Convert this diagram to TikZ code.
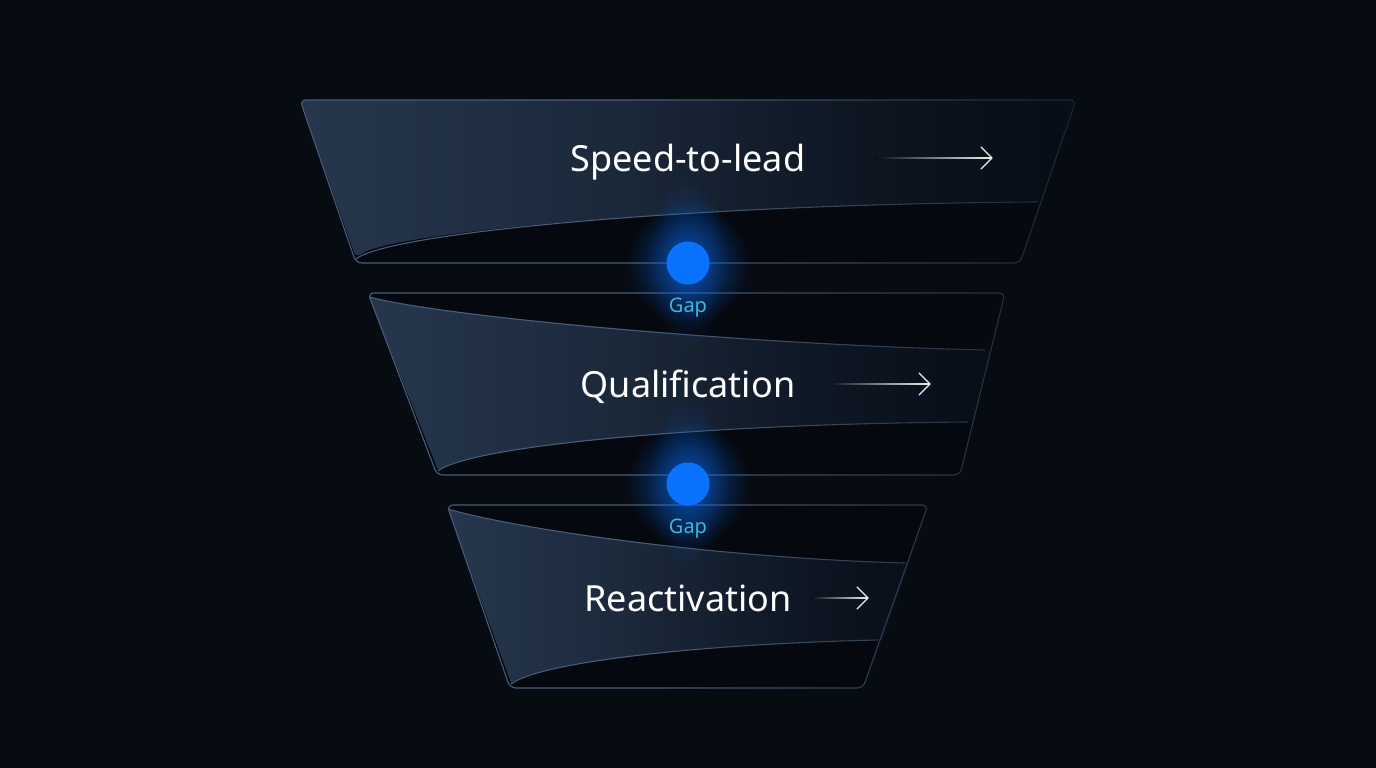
\documentclass[tikz,border=0pt]{standalone}
\usepackage{fontspec}
\setmainfont{Noto Sans}
\usetikzlibrary{fadings}
\definecolor{bg}{HTML}{070B12}
\definecolor{edge}{HTML}{4A5D78}
\definecolor{faceL}{HTML}{26374D}
\definecolor{faceM}{HTML}{14233A}
\definecolor{faceR}{HTML}{0B1320}
\definecolor{inner}{HTML}{05080E}
\definecolor{dotc}{HTML}{0A72FF}
\definecolor{gapc}{HTML}{3BB8DC}
\tikzfading[name=dimright, left color=transparent!100, right color=transparent!30]
\tikzfading[name=glowfade, inner color=transparent!45, outer color=transparent!100]
\tikzset{
  edgeline/.style={draw=edge, line width=1.1pt},
  face/.style={left color=faceL, middle color=faceM, right color=faceR},
  label/.style={text=white, font=\fontsize{36}{40}\selectfont, inner sep=0pt, anchor=base},
  gaplabel/.style={text=gapc, font=\fontsize{20}{24}\selectfont, inner sep=0pt, anchor=base},
  dotnode/.style={circle, fill=dotc, minimum size=43pt, inner sep=0pt},
  arrowhead/.style={draw=white!88!gray, line width=1.2pt, line cap=round, line join=round}
}
\begin{document}
\begin{tikzpicture}[x=1pt,y=-1pt]
\fill[bg] (0,0) rectangle (1376,768);
\useasboundingbox (0,0) rectangle (1376,768);

% ---------- Band 1 ----------
\fill[inner, rounded corners=6pt] (300,100) -- (1076,100) -- (1020,263) -- (356,263) -- cycle;
\shade[face, rounded corners=6pt] (300,100) -- (1076,100) -- (1041,202) .. controls (700,204) and (390,232) .. (356,258) -- cycle;
\draw[edgeline, rounded corners=6pt] (356,263) -- (300,100) -- (1076,100) -- (1020,263) -- cycle;
\draw[edgeline] (356,259) .. controls (390,232) and (700,204) .. (1038,202);

% ---------- Band 2 ----------
\fill[inner, rounded corners=6pt] (368,293) -- (1005,293) -- (960,475) -- (437,475) -- cycle;
\shade[face] (369,297) .. controls (450,318) and (760,345) .. (991,350) -- (973,422) .. controls (700,424) and (470,446) .. (438,470) -- cycle;
\draw[edgeline, rounded corners=6pt] (437,475) -- (368,293) -- (1005,293) -- (960,475) -- cycle;
\draw[edgeline] (369,297) .. controls (450,318) and (760,345) .. (985,350);
\draw[edgeline] (438,471) .. controls (470,446) and (700,424) .. (968,422);

% ---------- Band 3 ----------
\fill[inner, rounded corners=6pt] (447,505) -- (928,505) -- (863,688) -- (510,688) -- cycle;
\shade[face] (448,509) .. controls (520,530) and (720,558) .. (910,563) -- (883,640) .. controls (700,644) and (540,662) .. (511,683) -- cycle;
\draw[edgeline, rounded corners=6pt] (510,688) -- (447,505) -- (928,505) -- (863,688) -- cycle;
\draw[edgeline] (448,509) .. controls (520,530) and (720,558) .. (905,563);
\draw[edgeline] (511,684) .. controls (540,662) and (700,644) .. (878,640);

% ---------- dim the right-hand side ----------
\fill[bg, path fading=dimright] (640,90) rectangle (1090,700);

% ---------- Glows and dots ----------
\foreach \cy in {263,484}{
  \fill[dotc, path fading=glowfade] (688,\cy) circle (62);
  \fill[dotc, path fading=glowfade, opacity=0.6] (688,\cy) ellipse (40 and 85);
}
\node[dotnode] (d1) at (688,263) {};
\node[dotnode] (d2) at (688,484) {};
\node[gaplabel] (g1) at (688,312) {Gap};
\node[gaplabel] (g2) at (688,533) {Gap};

% ---------- Labels ----------
\node[label] (l1) at (688,171) {Speed-to-lead};
\node[label] (l2) at (688,397) {Qualification};
\node[label] (l3) at (688,611) {Reactivation};

% ---------- Arrows ----------
\coordinate (a1s) at (875,158); \coordinate (a1e) at (992,158);
\coordinate (a2s) at (825,384); \coordinate (a2e) at (930,384);
\coordinate (a3s) at (810,598); \coordinate (a3e) at (868,598);
\foreach \s/\e in {a1s/a1e,a2s/a2e,a3s/a3e}{
  \shade[left color=bg, right color=white!88!gray] ([yshift=-0.6pt]\s) rectangle ([yshift=0.6pt]\e);
  \draw[arrowhead] ([shift={(-11,-11)}]\e) -- (\e) -- ([shift={(-11,11)}]\e);
}
\end{tikzpicture}
\end{document}
